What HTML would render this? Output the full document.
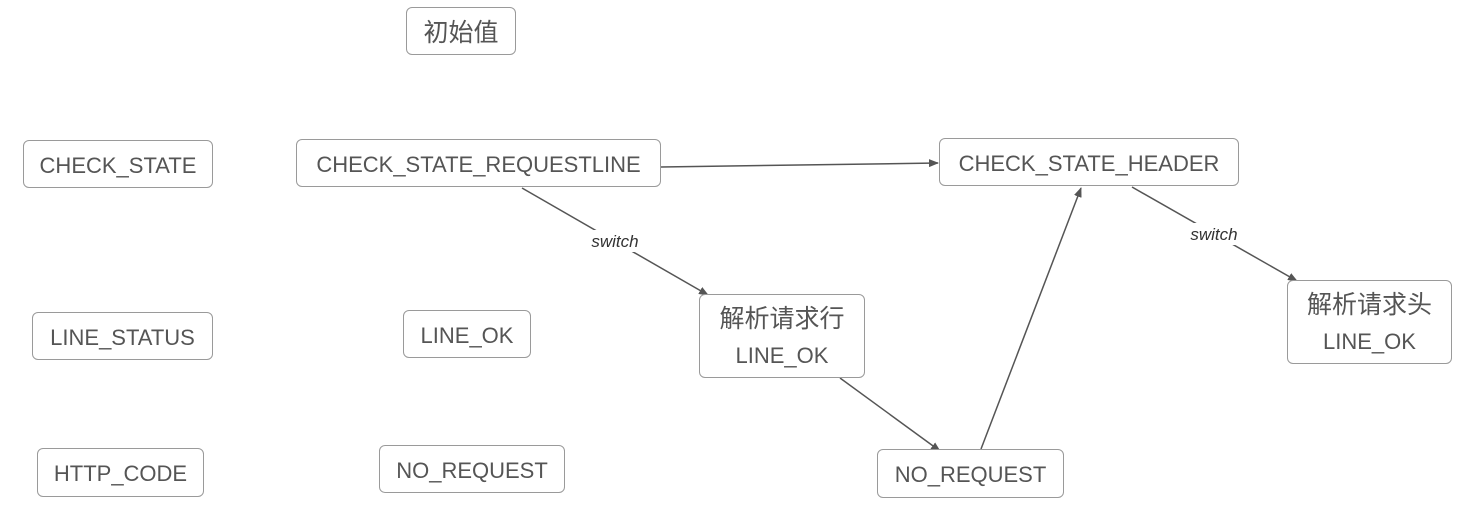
<!DOCTYPE html>
<html><head><meta charset="utf-8"><style>
body{margin:0;width:1464px;height:518px;background:#fff;position:relative;overflow:hidden;font-family:"Liberation Sans","Noto Sans CJK SC",sans-serif;}
.b{position:absolute;box-sizing:border-box;border:1px solid #9a9a9a;border-radius:6px;color:#555;font-size:22px;display:flex;align-items:center;justify-content:center;text-align:center;line-height:36px;background:#fff;padding-top:3px}
.c{font-size:25px}
svg{position:absolute;left:0;top:0}
</style></head><body>
<svg width="1464" height="518">
<defs><marker id="a" markerWidth="10" markerHeight="8" refX="9" refY="4" orient="auto" markerUnits="userSpaceOnUse"><path d="M0,0L10,4L0,8z" fill="#555"/></marker></defs>
<g stroke="#555" stroke-width="1.5" fill="none" marker-end="url(#a)">
<line x1="661" y1="167" x2="938" y2="163"/>
<line x1="522" y1="188" x2="708" y2="295"/>
<line x1="840" y1="378" x2="940" y2="451"/>
<line x1="981" y1="449" x2="1081" y2="188"/>
<line x1="1132" y1="187" x2="1297" y2="281"/>
</g>
<rect x="584" y="230" width="62" height="22" fill="#fff"/>
<rect x="1183" y="223" width="62" height="22" fill="#fff"/>
<g font-family="Liberation Sans,sans-serif" font-style="italic" font-size="17" fill="#333" text-anchor="middle">
<text x="615" y="247">switch</text><text x="1214" y="240">switch</text></g>
</svg>
<div class="b c" style="left:406px;top:7px;width:110px;height:48px">初始值</div>
<div class="b" style="left:23px;top:140px;width:190px;height:48px">CHECK_STATE</div>
<div class="b" style="left:296px;top:139px;width:365px;height:48px">CHECK_STATE_REQUESTLINE</div>
<div class="b" style="left:939px;top:138px;width:300px;height:48px">CHECK_STATE_HEADER</div>
<div class="b" style="left:32px;top:312px;width:181px;height:48px">LINE_STATUS</div>
<div class="b" style="left:403px;top:310px;width:128px;height:48px">LINE_OK</div>
<div class="b" style="left:699px;top:294px;width:166px;height:84px"><div><span class="c">解析请求行</span><br>LINE_OK</div></div>
<div class="b" style="left:1287px;top:280px;width:165px;height:84px"><div><span class="c">解析请求头</span><br>LINE_OK</div></div>
<div class="b" style="left:37px;top:448px;width:167px;height:49px">HTTP_CODE</div>
<div class="b" style="left:379px;top:445px;width:186px;height:48px">NO_REQUEST</div>
<div class="b" style="left:877px;top:449px;width:187px;height:49px">NO_REQUEST</div>
</body></html>
